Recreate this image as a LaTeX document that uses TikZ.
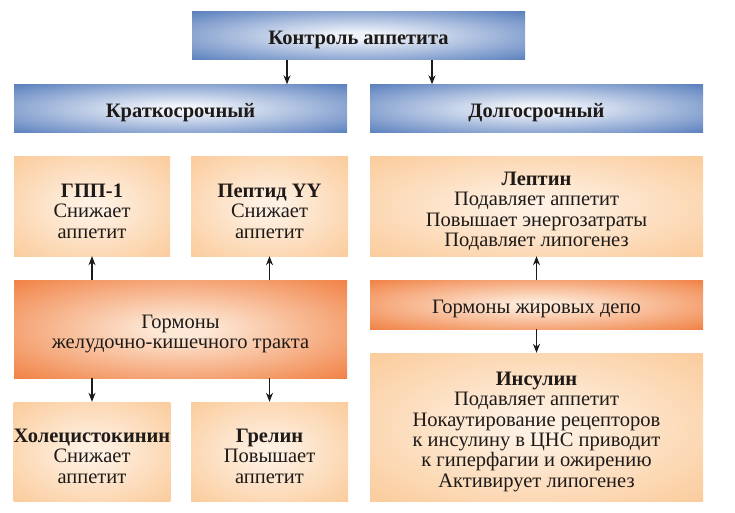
\documentclass[tikz,border=0pt]{standalone}
\usepackage{fontspec}
\setmainfont{Liberation Serif}
\usepackage{xcolor}
\usepackage{tikz}
\usetikzlibrary{arrows.meta,positioning}
\definecolor{blueedge}{HTML}{4670B5}
\definecolor{bluemid}{HTML}{EEF2FA}
\definecolor{peachedge}{HTML}{FAC48D}
\definecolor{peachmid}{HTML}{FEF0E2}
\definecolor{rustedge}{HTML}{EF7330}
\definecolor{rustmid}{HTML}{FDE8D6}
\definecolor{ink}{HTML}{1E1A18}
\pgfdeclareradialshading{blueglow}{\pgfpoint{0bp}{0bp}}{color(0bp)=(bluemid); color(4bp)=(bluemid); color(40bp)=(blueedge); color(72bp)=(blueedge)}
\pgfdeclareradialshading{peachglow}{\pgfpoint{0bp}{0bp}}{color(0bp)=(peachmid); color(4bp)=(peachmid); color(42bp)=(peachedge); color(72bp)=(peachedge)}
\pgfdeclareradialshading{rustglow}{\pgfpoint{0bp}{0bp}}{color(0bp)=(rustmid); color(4bp)=(rustmid); color(40bp)=(rustedge); color(72bp)=(rustedge)}
\newcommand{\toprule}{\rule{0pt}{23pt}}
\tikzset{
  every picture/.style = {
    x = 1pt,
    y = -1pt,
    >={Stealth[length=9pt,width=7pt]},
  }
  ,
  % common box look
  box/.style = {
    rectangle,
    inner sep = 0pt,
    align = center,
    text = ink,
    font = \fontsize{20.5}{20.4}\selectfont
  }
  , % level headers
  blue-box/.style = {
    box,
    shading = blueglow,
    font = \fontsize{20.5}{20.4}\selectfont\bfseries,
    minimum width = 333pt,
    minimum height = 48pt
  }
  , % hormone effects
  light-box/.style = {
    box,
    shading = peachglow,
    minimum height = 99pt
  }
  , % hormone sources
  dark-box/.style = {
    box,
    shading = rustglow,
    minimum width = 333pt
  }
  ,
  link/.style = {
    ->,
    line width = 1.2pt,
    draw = ink
  }
}
\begin{document}
\begin{tikzpicture}
    \useasboundingbox (0,0) rectangle (735,513);
    \node[blue-box] at (358.5,35.5) (ctrl) {\toprule Контроль аппетита};
    \node[blue-box] at (180.5,108.5) (short) {\toprule Краткосрочный};
    \node[blue-box] at (536.5,108.5) (long) {\toprule Долгосрочный};
    \node[light-box, minimum width = 156pt] at (92,206.5) (gpp) {\toprule\textbf{ГПП-1}\\Снижает\\аппетит};
    \node[light-box, minimum width = 157pt] at (269.5,206.5) (pyy) {\toprule\textbf{Пептид YY}\\Снижает\\аппетит};
    \node[light-box, minimum width = 333pt] at (536.5,206.5) (leptin) {\toprule\textbf{Лептин}\\Подавляет аппетит\\Повышает энергозатраты\\Подавляет липогенез};
    \node[dark-box, minimum height = 98pt] at (180.5,329) (gi) {\toprule Гормоны\\желудочно-кишечного тракта};
    \node[dark-box, minimum height = 49pt] at (536.5,304.5) (depo) {\toprule Гормоны жировых депо};
    \node[light-box, minimum width = 156pt] at (92,451.5) (cck) {\toprule\textbf{Холецистокинин}\\Снижает\\аппетит};
    \node[light-box, minimum width = 157pt] at (269.5,451.5) (ghrelin) {\toprule\textbf{Грелин}\\Повышает\\аппетит};
    \node[light-box, minimum width = 333pt, minimum height = 148pt] at (536.5,427) (insulin) {\toprule\textbf{Инсулин}\\Подавляет аппетит\\Нокаутирование рецепторов\\к инсулину в ЦНС приводит\\к гиперфагии и ожирению\\Активирует липогенез};
    \draw[link] ([xshift=-71.5pt]ctrl.south) -- ([xshift=-71.5pt]ctrl.south |- short.north);
    \draw[link] ([xshift=73.5pt]ctrl.south) -- ([xshift=73.5pt]ctrl.south |- long.north);
    \draw[link] (gpp.south |- gi.north) -- (gpp.south);
    \draw[link] (pyy.south |- gi.north) -- (pyy.south);
    \draw[link] (cck.north |- gi.south) -- (cck.north);
    \draw[link] (ghrelin.north |- gi.south) -- (ghrelin.north);
    \draw[link] (depo) -- (leptin);
    \draw[link] (depo) -- (insulin);
\end{tikzpicture}
\end{document}
